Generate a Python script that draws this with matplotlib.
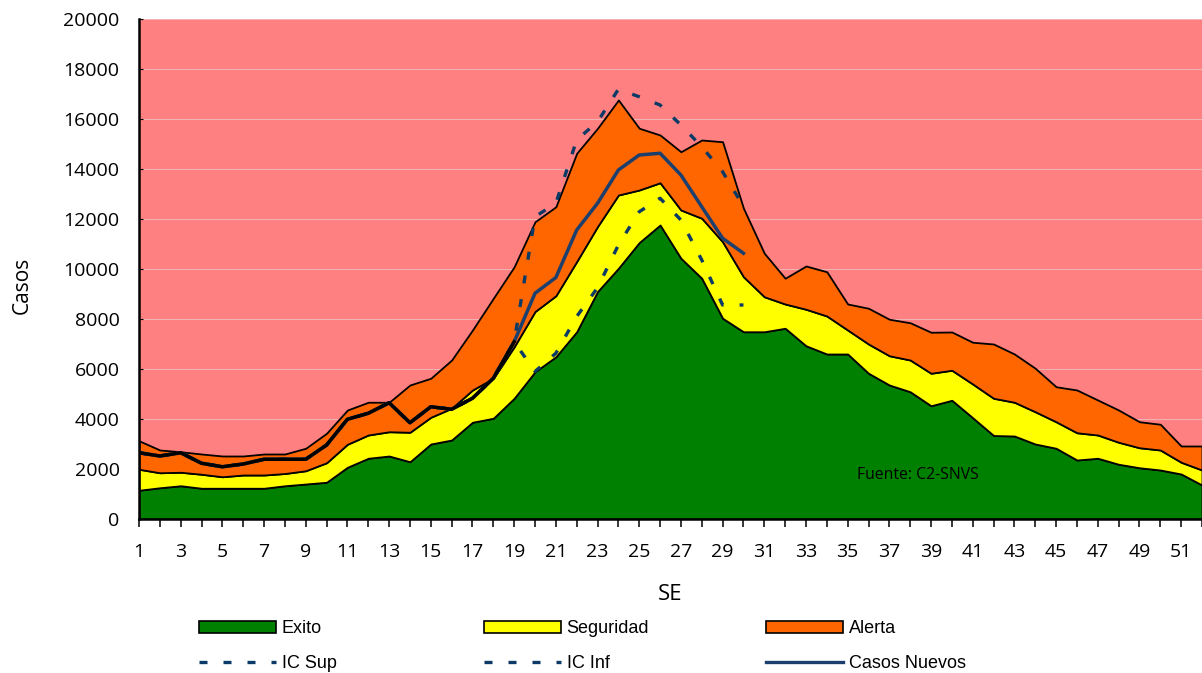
import matplotlib
matplotlib.use("Agg")
import matplotlib.pyplot as plt
from matplotlib.patches import Patch
from matplotlib.lines import Line2D

plt.rcParams['font.family'] = ['Open Sans', 'DejaVu Sans']

# Epidemiological weeks
weeks = list(range(1, 53))

# Endemic channel bands (stacked thickness per week)
exito = [1150, 1250, 1330, 1230, 1230, 1230, 1230, 1330, 1400, 1470,
         2070, 2430, 2520, 2290, 3000, 3160, 3870, 4030, 4830, 5890,
         6490, 7490, 9100, 10030, 11060, 11760, 10430, 9630, 8030, 7490,
         7490, 7630, 6930, 6600, 6600, 5830, 5360, 5090, 4530, 4750,
         4050, 3340, 3320, 3000, 2830, 2360, 2430, 2190, 2050, 1960,
         1800, 1360]
seguridad = [840, 600, 540, 560, 460, 530, 530, 490, 530, 780,
             920, 930, 970, 1180, 1070, 1270, 1290, 1600, 2060, 2410,
             2440, 2810, 2600, 2930, 2100, 1690, 1930, 2400, 3060, 2200,
             1400, 970, 1460, 1520, 960, 1170, 1170, 1270, 1300, 1200,
             1350, 1490, 1350, 1290, 1060, 1090, 930, 880, 800, 800,
             470, 600]
alerta = [1140, 910, 820, 810, 830, 760, 840, 780, 900, 1180,
          1370, 1310, 1180, 1890, 1560, 1930, 2400, 3200, 3200, 3590,
          3560, 4330, 3930, 3800, 2470, 1910, 2330, 3130, 4000, 2740,
          1740, 1030, 1730, 1770, 1040, 1430, 1460, 1490, 1640, 1530,
          1670, 2170, 1930, 1740, 1400, 1710, 1400, 1290, 1040, 1030,
          650, 960]

# Current season (weeks 1-30)
weeks_cur = list(range(1, 31))
casos_nuevos = [2650, 2520, 2650, 2230, 2090, 2200, 2390, 2390, 2390, 2960,
                3990, 4230, 4650, 3850, 4490, 4390, 4830, 5630, 7090, 9030,
                9660, 11560, 12630, 13960, 14560, 14630, 13760, 12490, 11230, 10630]
ic_sup = [2650, 2520, 2650, 2230, 2090, 2200, 2390, 2390, 2390, 2960,
          3990, 4230, 4650, 3850, 4490, 4390, 4830, 5630, 7090, 12090,
          12630, 15160, 15890, 17190, 16890, 16560, 15760, 14890, 13890, 12500]
ic_inf = [2650, 2520, 2650, 2230, 2090, 2200, 2390, 2390, 2390, 2960,
          3990, 4230, 4650, 3850, 4490, 4390, 4830, 5630, 7090, 5900,
          6630, 8100, 9250, 10960, 12290, 12830, 11960, 10360, 8560, 8560]
n_obs_black = 19

y_ticks = list(range(0, 20001, 2000))
x_ticklabels = [str(w) if w % 2 == 1 else '' for w in weeks]

C_GREEN = '#008000'
C_YELLOW = '#FFFF00'
C_ORANGE = '#FF6600'
C_PINK = '#FF8080'
C_DASH = '#0b3a66'
C_LINE = '#1c3f6e'

fig = plt.figure(figsize=(12.02, 6.73), dpi=100)
ax = fig.add_axes([139 / 1202, 1 - 519 / 673, 1 - 139 / 1202, (519 - 19) / 673])
ax.set_facecolor(C_PINK)

ax.stackplot(weeks, exito, seguridad, alerta,
             colors=[C_GREEN, C_YELLOW, C_ORANGE],
             edgecolor='black', linewidth=1.3, zorder=2)

dash = (0, (2.4, 4.8))
ax.plot(weeks_cur, ic_sup, color=C_DASH, lw=2.4, linestyle=dash, zorder=3)
ax.plot(weeks_cur, ic_inf, color=C_DASH, lw=2.4, linestyle=dash, zorder=3)
ax.plot(weeks_cur, casos_nuevos, color=C_LINE, lw=2.5, zorder=4)
ax.plot(weeks_cur[:n_obs_black], casos_nuevos[:n_obs_black],
        color='black', lw=2.5, zorder=5)

ax.set_xlim(1, 52)
ax.set_ylim(0, 20000)
ax.set_yticks(y_ticks)
ax.set_yticklabels([str(v) for v in y_ticks])
ax.set_xticks(weeks)
ax.set_xticklabels(x_ticklabels)

ax.grid(axis='y', color='#f0b4b4', lw=0.7, zorder=1)
ax.set_axisbelow(True)

for s in ('top', 'right'):
    ax.spines[s].set_visible(False)
for s in ('left', 'bottom'):
    ax.spines[s].set_linewidth(1.8)
    ax.spines[s].set_color('black')
    ax.spines[s].set_zorder(6)

ax.tick_params(axis='x', direction='out', length=6, width=1.1,
               labelsize=14, pad=11.5, colors='black')
ax.tick_params(axis='y', direction='in', length=3, width=0.8,
               labelsize=14, pad=14, colors='black')

fig.text(670 / 1202, 1 - 594 / 673, 'SE', fontsize=16,
         ha='center', va='center')
fig.text(22 / 1202, 1 - 285 / 673, 'Casos', fontsize=15,
         rotation=90, ha='center', va='center')

ax.text((857 - 139) / (1202 - 139), (519 - 475) / 500, 'Fuente: C2-SNVS',
        transform=ax.transAxes, fontsize=11.3, ha='left', va='center',
        zorder=7)

# Legend: three columns below the plot
leg_font = {'family': ['Liberation Sans', 'DejaVu Sans'], 'size': 13}
leg_kw = dict(loc='upper left', frameon=False, prop=leg_font,
              handlelength=4.25, handletextpad=0.33, borderpad=0,
              borderaxespad=0, labelspacing=1.02, handleheight=0.65)
dash_handle = lambda: Line2D([], [], color=C_DASH, lw=2.4,
                            linestyle=(0, (2.4, 4.8)))
cols = [
    (199, [Patch(facecolor=C_GREEN, edgecolor='black', lw=1.2), dash_handle()],
     ['Exito', 'IC Sup']),
    (484, [Patch(facecolor=C_YELLOW, edgecolor='black', lw=1.2), dash_handle()],
     ['Seguridad', 'IC Inf']),
    (766, [Patch(facecolor=C_ORANGE, edgecolor='black', lw=1.2),
           Line2D([], [], color=C_LINE, lw=2.4)],
     ['Alerta', 'Casos Nuevos']),
]
for x0, handles, labels in cols:
    fig.legend(handles, labels, bbox_to_anchor=(x0 / 1202, 1 - 620 / 673),
               **leg_kw)

fig.savefig('out.png', dpi=100)
